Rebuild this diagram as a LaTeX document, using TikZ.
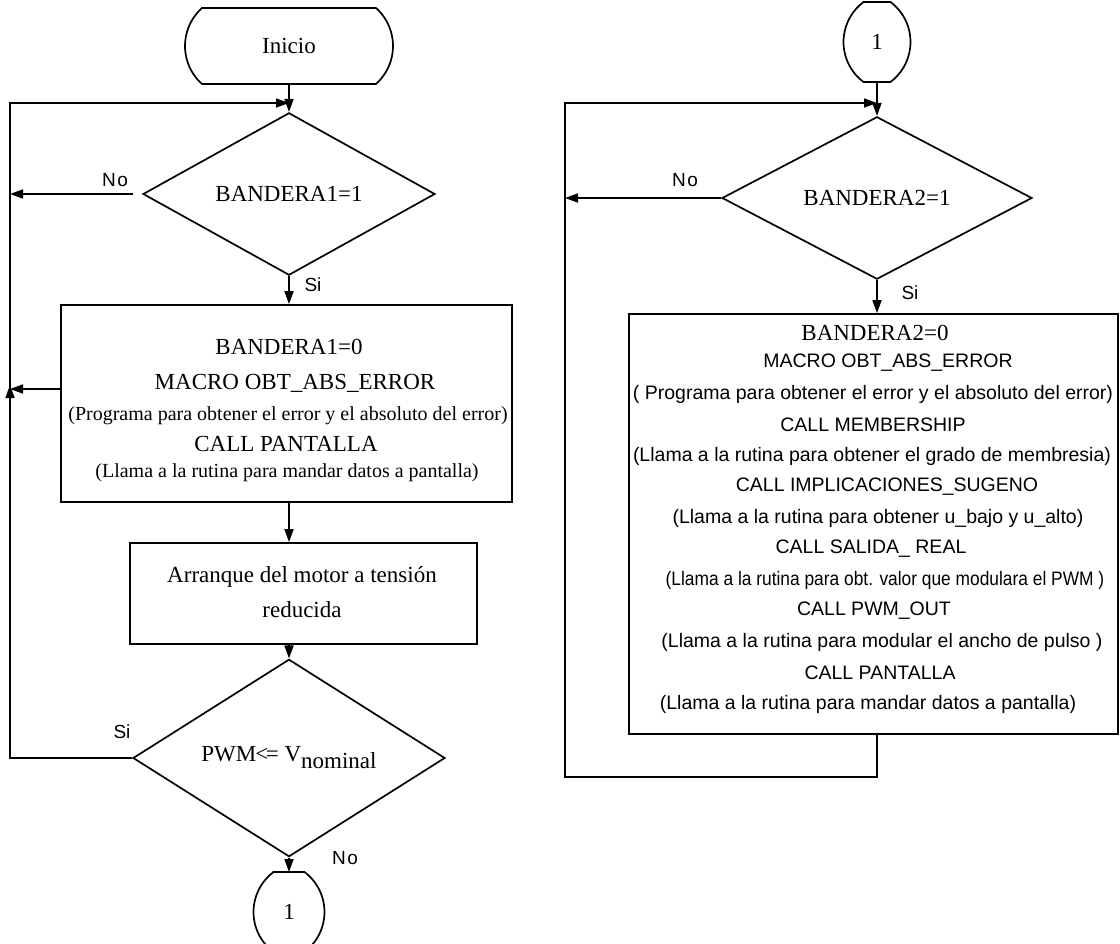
\documentclass[tikz,border=0pt]{standalone}
\usepackage{fontspec}
\setmainfont{Liberation Serif}
\newfontfamily\arialfam{Liberation Sans}
\usetikzlibrary{arrows.meta,shapes.geometric}

% outline of a terminal/connector node: straight top and bottom, circular arcs at the ends
% #1 node name, #2 bulge of the end arcs, #3 arc radius, #4 half angle of the arcs
\newcommand\capsule[4]{%
  \draw ([xshift=#2pt]#1.north west) -- ([xshift=-#2pt]#1.north east)
    arc[start angle=-#4, end angle=#4, radius=#3]
    -- ([xshift=#2pt]#1.south west)
    arc[start angle=180-#4, end angle=180+#4, radius=#3] -- cycle;}

\begin{document}
\begin{tikzpicture}[x=1pt,y=-1pt,line width=1.7pt,
  every node/.style={inner sep=0pt},
  arr/.style={-{Triangle[length=13pt,width=9pt]}},
  tbig/.style={font=\fontsize{23}{25}\selectfont},
  tsmall/.style={font=\fontsize{20}{22}\selectfont},
  sans/.style={font=\arialfam\fontsize{19.5}{22}\selectfont},
  lbl/.style={font=\arialfam\fontsize{19}{21}\selectfont},
  procbox/.style={draw,rectangle},
  decision/.style={draw,diamond,tbig},
  termnode/.style={rectangle,outer sep=0pt,tbig},
]
\useasboundingbox (0,0) rectangle (1120,944);

% ---------------- left column ----------------
\node[termnode, minimum width=208pt, minimum height=76pt] (inicio) at (289,46) {Inicio};
\capsule{inicio}{17}{50.97}{48.2}
\node[decision, minimum width=292pt, minimum height=150pt] (d1) at (289,194) {BANDERA1=1};
\node[procbox, minimum width=451pt, minimum height=197pt] (b1) at (286.5,403.5) {};
\node[tbig]   (b1l1) at (289,347) {BANDERA1=0};
\node[tbig]   (b1l2) at (295,383) {MACRO OBT\_ABS\_ERROR};
\node[tsmall] (b1l3) at (288,416) {(Programa para obtener el error y el absoluto del error)};
\node[tbig]   (b1l4) at (286,444) {CALL PANTALLA};
\node[tsmall] (b1l5) at (287,473) {(Llama a la rutina para mandar datos a pantalla)};
\node[procbox, minimum width=347pt, minimum height=101pt] (b2) at (303.5,593.5) {};
\node[tbig] (b2l1) at (302,577) {Arranque del motor a tensión};
\node[tbig] (b2l2) at (302,610) {reducida};
\node[decision, minimum width=312pt, minimum height=150pt] (d3) at (289,758)
  {PWM\kern-1pt<\kern-2.5pt= V\raisebox{-7pt}{nominal}};
\node[termnode, minimum width=71pt, minimum height=80pt] (c2) at (289,912) {1};
\capsule{c2}{20}{50}{53.13}

\coordinate (lt) at (10,103);
\coordinate (lj) at (10,389);
\coordinate (lb) at (10,758);

\draw[arr] (inicio.south) -- (d1.north);
\draw[arr] ([xshift=-9pt]d1.west) -- (d1.west -| lt);
\draw[arr] (d1.south) -- (d1.south |- b1.north);
\draw[arr] (b1.west |- lj) -- (lj);
\draw[arr] (d1.south |- b1.south) -- (d1.south |- b2.north);
\draw[arr] (d1.south |- b2.south) -- (d3.north);
\draw[arr] (d3.south) -- (c2.north);
\draw[arr] (d3.west) -- (lb) -- ([yshift=4pt]lj);
\draw[arr] (lj) -- (lt) -- (lt -| inicio.south);

\node[lbl] (no1) at (115,180) {N\kern1.5pt o};
\node[lbl] (si1) at (313,285) {Si};
\node[lbl] (si3) at (122,732) {Si};
\node[lbl] (no3) at (345,858) {N\kern1.5pt o};

% ---------------- right column ----------------
\node[termnode, minimum width=67pt, minimum height=80pt] (c1) at (877,42) {1};
\capsule{c1}{20}{50}{53.13}
\node[decision, minimum width=310pt, minimum height=150pt] (d2) at (877,198) {BANDERA2=1};
\node[procbox, minimum width=489pt, minimum height=420pt] (b3) at (873.5,524) {};
\node[tbig] (b3l0)  at (875,333) {BANDERA2=0};
\node[sans] (b3l1)  at (888,363) {MACRO OBT\_ABS\_ERROR};
\node[sans] (b3l2)  at (873,394) {( Programa para obtener el error y el absoluto del error)};
\node[sans] (b3l3)  at (873,425) {CALL MEMBERSHIP};
\node[sans] (b3l4)  at (872,456) {(Llama a la rutina para obtener el grado de membresia)};
\node[sans] (b3l5)  at (887,487) {CALL IMPLICACIONES\_SUGENO};
\node[sans] (b3l6)  at (878,518) {(Llama a la rutina para obtener u\_bajo y u\_alto)};
\node[sans] (b3l7)  at (871,549) {CALL SALIDA\_ REAL};
\node[sans] (b3l8)  at (885,580) {\scalebox{0.89}[1]{(Llama a la rutina para obt. valor que modulara el PWM )}};
\node[sans] (b3l9)  at (874,611) {CALL PWM\_OUT};
\node[sans] (b3l10) at (882,642) {(Llama a la rutina para modular el ancho de pulso )};
\node[sans] (b3l11) at (880,673) {CALL PANTALLA};
\node[sans] (b3l12) at (868,704) {(Llama a la rutina para mandar datos a pantalla)};

\coordinate (rt) at (565,103);
\coordinate (rb) at (877,777);

\draw[arr] (c1.south) -- (d2.north);
\draw[arr] (d2.west) -- (d2.west -| rt);
\draw[arr] (d2.south) -- (d2.south |- b3.north);
\draw[arr] (b3.south -| rb) -- (rb) -- (rb -| rt) -- (rt) -- (rt -| d2.north);

\node[lbl] (no2) at (685,180) {N\kern1.5pt o};
\node[lbl] (si2) at (910,293) {Si};
\end{tikzpicture}
\end{document}
